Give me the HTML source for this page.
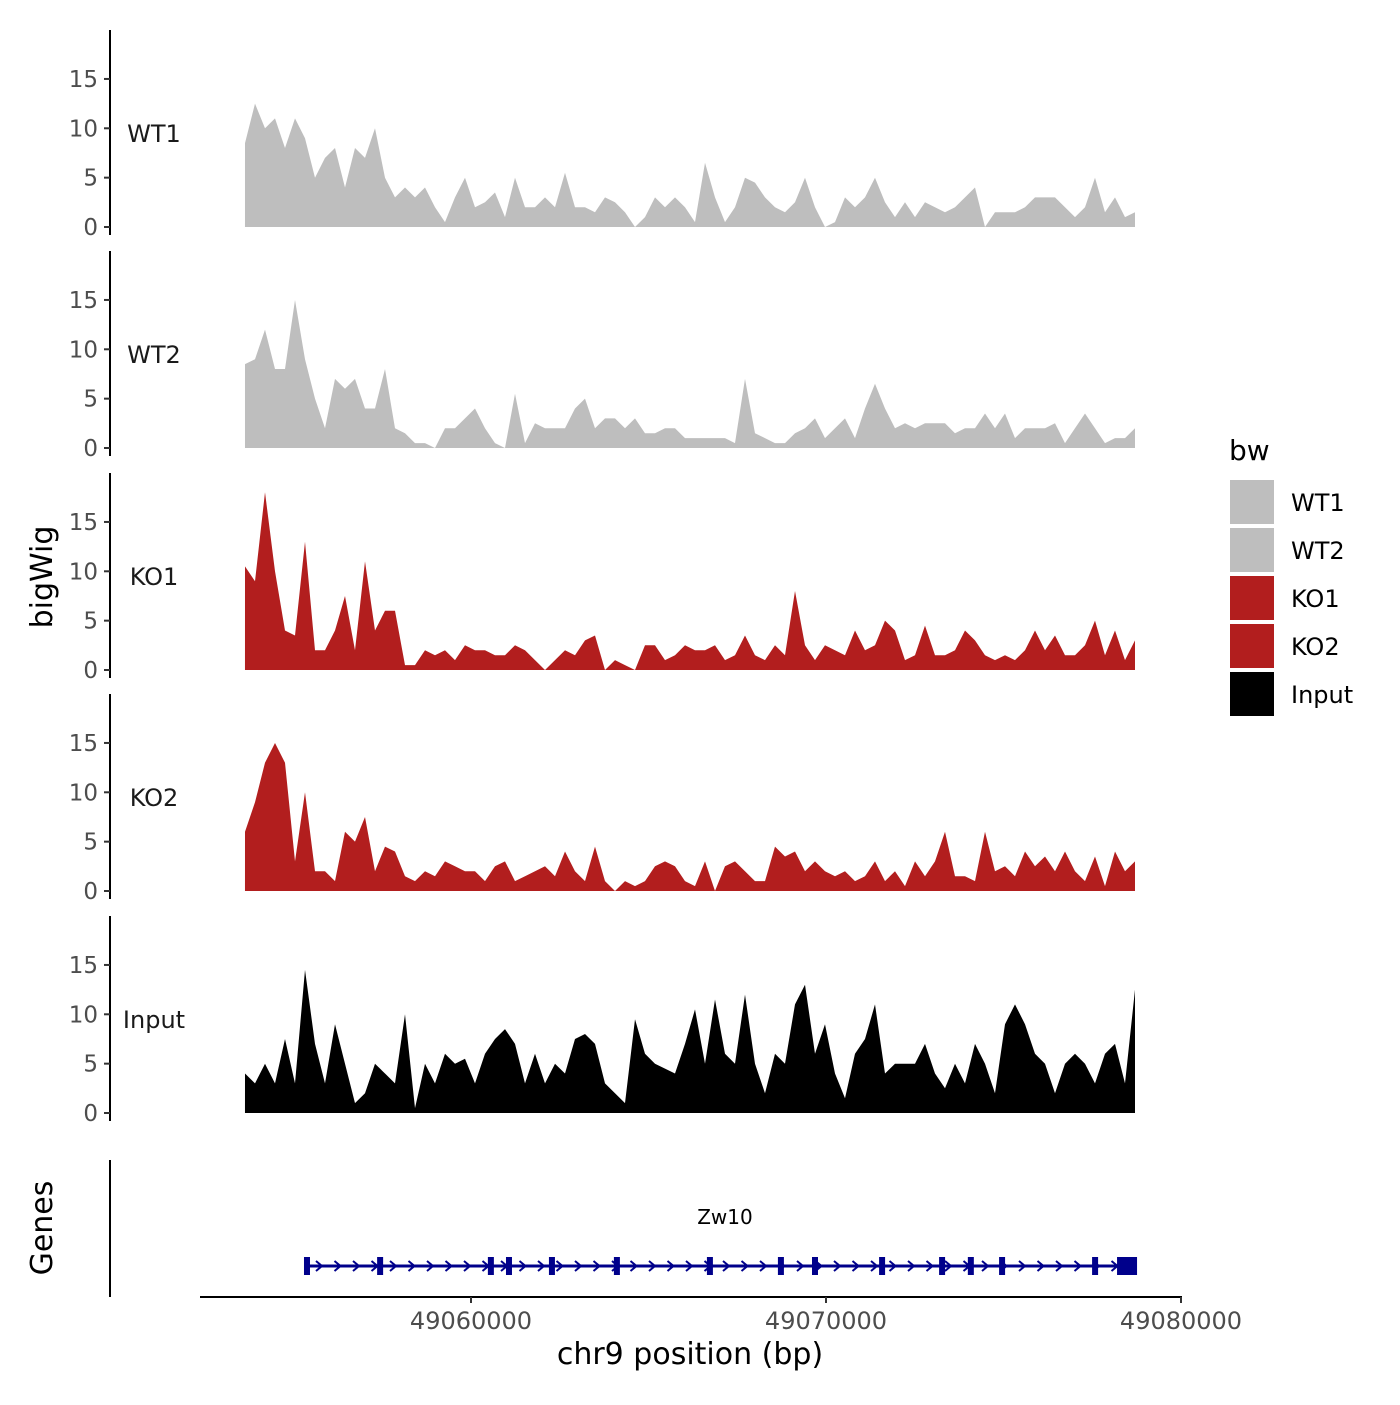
<!DOCTYPE html>
<html><head><meta charset="utf-8"><style>
body{margin:0;background:#fff}
svg text{font-family:"DejaVu Sans","Liberation Sans",sans-serif}
</style></head><body>
<svg id="c" width="1400" height="1400" xmlns="http://www.w3.org/2000/svg"></svg>
<script>
const trackNames=["WT1","WT2","KO1","KO2","Input"];
const trackColors=["#bebebe","#bebebe","#b21e1e","#b21e1e","#000000"];
const startBp=49053633, stepBp=281.7;
const wt1=[8.5,12.5,10,11,8,11,9,5,7,8,4,8,7,10,5,3,4,3,4,2,0.5,3,5,2,2.5,3.5,1,5,2,2,3,2,5.5,2,2,1.5,3,2.5,1.5,0,1,3,2,3,2,0.5,6.5,3,0.5,2,5,4.5,3,2,1.5,2.5,5,2,0,0.5,3,2,3,5,2.5,1,2.5,1,2.5,2,1.5,2,3,4,0,1.5,1.5,1.5,2,3,3,3,2,1,2,5,1.5,3,1,1.5];
const wt2=[8.5,9,12,8,8,15,9,5,2,7,6,7,4,4,8,2,1.5,0.5,0.5,0,2,2,3,4,2,0.5,0,5.5,0.5,2.5,2,2,2,4,5,2,3,3,2,3,1.5,1.5,2,2,1,1,1,1,1,0.5,7,1.5,1,0.5,0.5,1.5,2,3,1,2,3,1,4,6.5,4,2,2.5,2,2.5,2.5,2.5,1.5,2,2,3.5,2,3.5,1,2,2,2,2.5,0.5,2,3.5,2,0.5,1,1,2];
const ko1=[10.5,9,18,10,4,3.5,13,2,2,4,7.5,2,11,4,6,6,0.5,0.5,2,1.5,2,1,2.5,2,2,1.5,1.5,2.5,2,1,0,1,2,1.5,3,3.5,0,1,0.5,0,2.5,2.5,1,1.5,2.5,2,2,2.5,1,1.5,3.5,1.5,1,2.5,1.5,8,2.5,1,2.5,2,1.5,4,2,2.5,5,4,1,1.5,4.5,1.5,1.5,2,4,3,1.5,1,1.5,1,2,4,2,3.5,1.5,1.5,2.5,5,1.5,4,1,3];
const ko2=[6,9,13,15,13,3,10,2,2,1,6,5,7.5,2,4.5,4,1.5,1,2,1.5,3,2.5,2,2,1,2.5,3,1,1.5,2,2.5,1.5,4,2,1,4.5,1,0,1,0.5,1,2.5,3,2.5,1,0.5,3,0,2.5,3,2,1,1,4.5,3.5,4,2,3,2,1.5,2,1,1.5,3,1,2,0.5,3,1.5,3,6,1.5,1.5,1,6,2,2.5,1.5,4,2.5,3.5,2,4,2,1,3.5,0.5,4,2,3];
const input=[4,3,5,3,7.5,3,14.5,7,3,9,5,1,2,5,4,3,10,0.5,5,3,6,5,5.5,3,6,7.5,8.5,7,3,6,3,5,4,7.5,8,7,3,2,1,9.5,6,5,4.5,4,7,10.5,5,11.5,6,5,12,5,2,6,5,11,13,6,9,4,1.5,6,7.5,11,4,5,5,5,7,4,2.5,5,3,7,5,2,9,11,9,6,5,2,5,6,5,3,6,7,3,12.5];
const yTicks=[0,5,10,15];
const xTicks=[49060000,49070000,49080000];
const exonsBp=[49055380,49057440,49060560,49061070,49062280,49064110,49066730,49068730,49069690,49071580,49073270,49074080,49074960,49077580,49078480];
const geneStartBp=49055380, geneEndBp=49078750;

const svg=document.getElementById('c');
const NS='http://www.w3.org/2000/svg';
function mk(tag,attrs,parent){const e=document.createElementNS(NS,tag);for(const k in attrs)e.setAttribute(k,attrs[k]);(parent||svg).appendChild(e);return e;}
const xS=bp=>471+(bp-49060000)*0.0355;
const zeros=[227,448,670,891,1113];
const pxPerUnit=9.87;
const series=[wt1,wt2,ko1,ko2,input];

series.forEach((vals,t)=>{
  const z=zeros[t]; const yS=v=>z-v*pxPerUnit;
  const g=mk('g',{});
  
  
  let d='M'+xS(startBp)+','+z;
  vals.forEach((v,i)=>{d+=' L'+xS(startBp+i*stepBp).toFixed(1)+','+yS(v).toFixed(1);});
  d+=' L'+xS(startBp+(vals.length-1)*stepBp).toFixed(1)+','+z+' Z';
  const p=mk('path',{d:d,fill:trackColors[t]},g);
  
  
  const ax=mk('line',{x1:110,x2:110,y1:z-197,y2:z+8,stroke:'#000','stroke-width':2},g);
  
  
  yTicks.forEach(v=>{
    const tk=mk('line',{x1:104,x2:110,y1:yS(v),y2:yS(v),stroke:'#333','stroke-width':2},g);
    
    
    const tl=mk('text',{x:98,y:yS(v)+8,'text-anchor':'end','font-size':23,fill:'#4d4d4d'},g);
    tl.textContent=v;
    
    
  });
  const nm=mk('text',{x:154,y:z-85,'text-anchor':'middle','font-size':24,fill:'#1a1a1a'},g);
  nm.textContent=trackNames[t];
  
  
});

const yt=mk('text',{x:0,y:0,'text-anchor':'middle','font-size':30,fill:'#000',transform:'translate(52,577) rotate(-90)'});
yt.textContent='bigWig';


const gt=mk('text',{x:0,y:0,'text-anchor':'middle','font-size':30,fill:'#000',transform:'translate(52,1228) rotate(-90)'});
gt.textContent='Genes';


const ga=mk('line',{x1:110,x2:110,y1:1160,y2:1297,stroke:'#000','stroke-width':2});



const gg=mk('g',{});


const gl=mk('line',{x1:xS(geneStartBp),x2:xS(geneEndBp),y1:1266,y2:1266,stroke:'#00008b','stroke-width':3},gg);


for(let x=xS(geneStartBp)+12;x<xS(geneEndBp)-10;x+=18.5){
  const ch=mk('polyline',{points:(x-3)+',1261 '+(x+3)+',1266 '+(x-3)+',1271',fill:'none',stroke:'#00008b','stroke-width':2},gg);
  
  
}
exonsBp.forEach((b,i)=>{
  const w=i===exonsBp.length-1?20:6;
  const r=mk('rect',{x:xS(b)-w/2,y:1257,width:w,height:18,fill:'#00008b'},gg);
  
  
});
const gn=mk('text',{x:725,y:1224,'text-anchor':'middle','font-size':20,fill:'#000'},gg);
gn.textContent='Zw10';



const xa=mk('line',{x1:200,x2:1182,y1:1297,y2:1297,stroke:'#000','stroke-width':2});


xTicks.forEach(v=>{
  const tk=mk('line',{x1:xS(v),x2:xS(v),y1:1297,y2:1303,stroke:'#333','stroke-width':2});
  
  
  const tl=mk('text',{x:xS(v),y:1329,'text-anchor':'middle','font-size':24,fill:'#4d4d4d'});
  tl.textContent=v;
  
  
});
const xt=mk('text',{x:690,y:1364,'text-anchor':'middle','font-size':30,fill:'#000'});
xt.textContent='chr9 position (bp)';



const lg=mk('g',{});


const lt=mk('text',{x:1229,y:460,'font-size':28,fill:'#000'},lg);
lt.textContent='bw';


trackNames.forEach((n,i)=>{
  const y=480+i*48;
  const r=mk('rect',{x:1230,y:y,width:44,height:44,fill:trackColors[i]},lg);
  
  
  const t=mk('text',{x:1291,y:y+31,'font-size':24,fill:'#000'},lg);
  t.textContent=n;
  
  
});
</script>
</body></html>
